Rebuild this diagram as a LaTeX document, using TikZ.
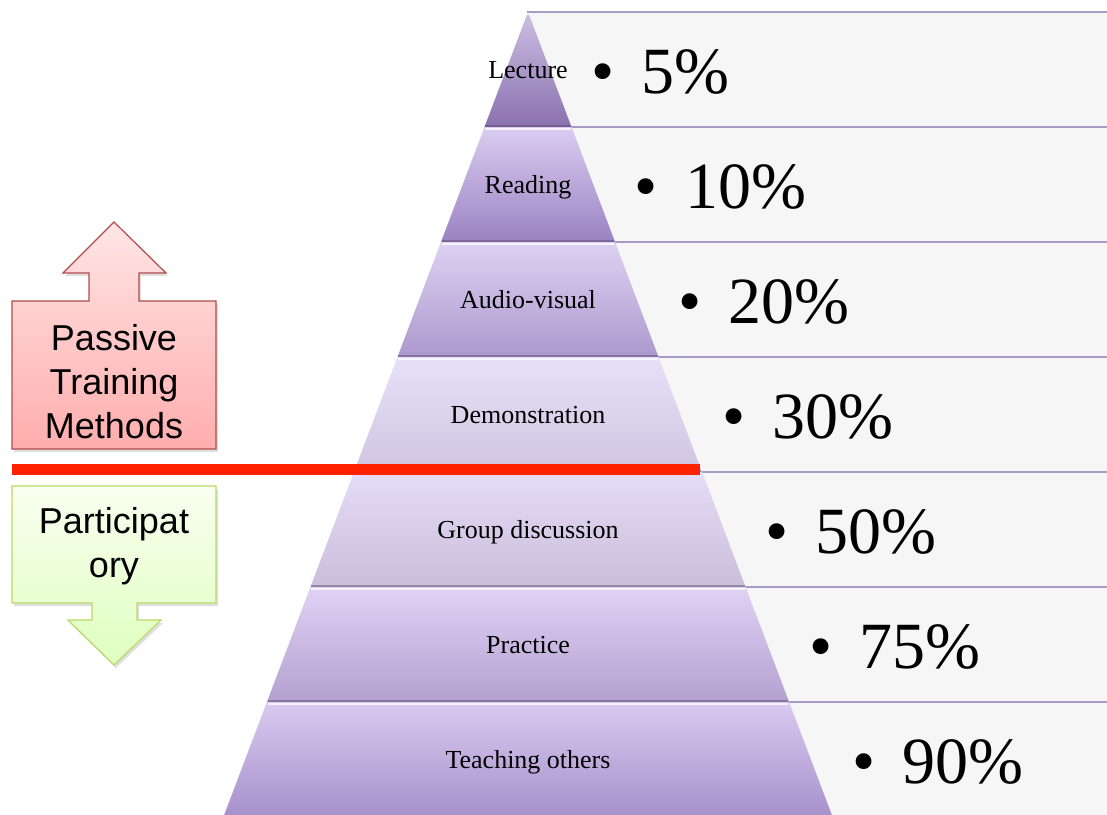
\documentclass[tikz,border=0pt]{standalone}
\usepackage{fontspec}
\setmainfont{Liberation Serif}
\newfontfamily\sansfont{Liberation Sans}
\usetikzlibrary{calc}
\usetikzlibrary{math}
\usetikzlibrary{shadows}

\definecolor{rowgray}{HTML}{F6F6F6}
\definecolor{rowline}{HTML}{A99BC6}
\definecolor{barred}{HTML}{FF2200}
\definecolor{lvtop1}{HTML}{CDBFE4}
\definecolor{lvbot1}{HTML}{8A71AF}
\definecolor{lvtop2}{HTML}{DACDF1}
\definecolor{lvbot2}{HTML}{9A82C2}
\definecolor{lvtop3}{HTML}{DDD1F2}
\definecolor{lvbot3}{HTML}{AC99CE}
\definecolor{lvtop4}{HTML}{E8E0F8}
\definecolor{lvbot4}{HTML}{CFC5E1}
\definecolor{lvtop5}{HTML}{E5DCF7}
\definecolor{lvbot5}{HTML}{CABEDB}
\definecolor{lvtop6}{HTML}{E0D2F5}
\definecolor{lvbot6}{HTML}{B4A0D0}
\definecolor{lvtop7}{HTML}{D9CAF0}
\definecolor{lvbot7}{HTML}{A690CB}

\tikzset{
  rowbox/.style={draw=rowline, line width=1.5pt, fill=rowgray},
  levellabel/.style={font=\fontsize{26}{30}\selectfont, anchor=base, inner sep=0pt},
  pctlabel/.style={font=\fontsize{66}{70}\selectfont, anchor=base west, inner sep=0pt},
  bevelhi/.style={white, opacity=0.75, line width=2pt},
  bevello/.style={black!45!lvbot7, opacity=0.5, line width=1.5pt},
  armtext/.style={font=\sansfont\fontsize{36}{44}\selectfont, align=center, inner sep=0pt},
  passivearm/.style={draw=red!55!black!70, line width=1.2pt, top color=red!10, bottom color=red!32,
    drop shadow={opacity=0.25, shadow xshift=2pt, shadow yshift=-3pt}},
  partarm/.style={draw=green!45!black!45!yellow!60, line width=1.2pt, top color=green!40!yellow!6,
    bottom color=green!50!yellow!25, drop shadow={opacity=0.25, shadow xshift=2pt, shadow yshift=-3pt}},
}

\begin{document}
\begin{tikzpicture}[x=1pt, y=-1pt]
  \useasboundingbox (0,0) rectangle (1107,814);
  \clip (0,0) rectangle (1107,814);
  \coordinate (apex) at (528,12) ;

  % rows on the right
  \foreach \i in {1,...,7} {
    \tikzmath{ \yt = 12+115*(\i-1); \yb = \yt+115; }
    \draw[rowbox] (528,\yt) rectangle (1112,\yb);
  }

  % pyramid levels
  \foreach \i/\name/\txt/\pct in {1/lecture/Lecture/5, 2/reading/Reading/10,
      3/audiovisual/Audio-visual/20, 4/demo/Demonstration/30,
      5/discussion/Group discussion/50, 6/practice/Practice/75,
      7/teaching/Teaching others/90} {
    \tikzmath{ \yt = 12+115*(\i-1); \yb = \yt+115; \ym = \yt+57.5;
      \wt = (\yt-12)*0.3784; \wb = (\yb-12)*0.3784; \wm = (\ym-12)*0.3784; }
    \shade[top color=lvtop\i, bottom color=lvbot\i]
      (528-\wt,\yt) -- (528+\wt,\yt) -- (528+\wb,\yb) -- (528-\wb,\yb) -- cycle;
    \draw[bevelhi] (528-\wt+1,\yt+2) -- (528+\wt-1,\yt+2);
    \draw[bevello] (528-\wb+1,\yb-1) -- (528+\wb-1,\yb-1);
    \node[levellabel] (\name) at (528,\ym+9) {\txt};
    \node[pctlabel] (\name-pct) at (528+\wm+41.5,\ym+23.5) {\textbullet\hspace{27pt}\pct\%};
  }

  % passive / participatory arms
  \path[passivearm] (12,301) -- (89,301) -- (89,273) -- (63,273) -- (114,222) -- (166,273)
    -- (139,273) -- (139,301) -- (216,301) -- (216,449) -- (12,449) -- cycle;
  \node[armtext] (passive) at (114,382) {Passive\\Training\\Methods};

  \path[partarm] (12,486) -- (216,486) -- (216,603) -- (137,603) -- (137,620) -- (161,620)
    -- (114,665) -- (68,620) -- (92,620) -- (92,603) -- (12,603) -- cycle;
  \node[armtext] (participatory) at (114,546) {Participat\\ory};

  \coordinate (bar-l) at (12,469) ;
  \coordinate[right=688pt] (bar-r) at (bar-l) ;
  \draw[barred, line width=11pt, drop shadow={opacity=0.2, shadow xshift=1pt, shadow yshift=-3pt}]
    (bar-l) -- (bar-r);

\end{tikzpicture}
\end{document}
